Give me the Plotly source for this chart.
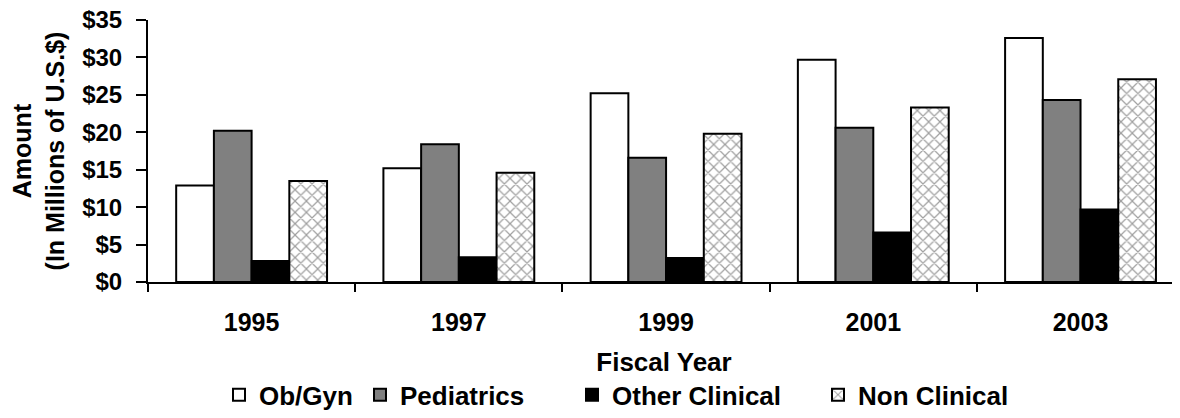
import plotly.graph_objects as go

years = ["1995", "1997", "1999", "2001", "2003"]
ob_gyn = [12.9, 15.2, 25.2, 29.7, 32.6]
pediatrics = [20.2, 18.4, 16.6, 20.6, 24.3]
other_clinical = [2.8, 3.3, 3.2, 6.6, 9.7]
non_clinical = [13.5, 14.6, 19.8, 23.3, 27.1]
y_ticks = [0, 5, 10, 15, 20, 25, 30, 35]
y_tick_labels = ["$" + str(v) for v in y_ticks]

FONT = "Arial, Liberation Sans, sans-serif"
line = dict(color="black", width=2)


def bold(size):
    return dict(family=FONT, size=size, color="black", weight="bold")


fig = go.Figure()
fig.add_bar(x=years, y=ob_gyn, name="Ob/Gyn", legendwidth=96,
            marker=dict(color="white", line=line))
fig.add_bar(x=years, y=pediatrics, name="Pediatrics", legendwidth=167,
            marker=dict(color="#808080", line=line))
fig.add_bar(x=years, y=other_clinical, name="Other Clinical", legendwidth=201,
            marker=dict(color="black", line=line))
fig.add_bar(x=years, y=non_clinical, name="Non Clinical", legendwidth=160,
            marker=dict(color="white", line=line,
                        pattern=dict(shape="x", fgcolor="#404040", bgcolor="white", size=8, solidity=0.28)))

# page body has an 8px margin; figure size/margins compensate for it
fig.update_layout(
    width=1172, height=410,
    margin=dict(l=140, r=0, t=12, b=136, autoexpand=False),
    paper_bgcolor="white", plot_bgcolor="white",
    barmode="group", bargap=0.272, bargroupgap=0,
    font=dict(family=FONT, size=25, color="black"),
    showlegend=True,
    legend=dict(orientation="h", x=0.0688, xanchor="left", y=-0.52, yanchor="bottom",
                font=bold(26), itemsizing="constant", traceorder="normal", itemwidth=30,
                tracegroupgap=0, borderwidth=0),
)
fig.update_xaxes(
    type="category", range=[-0.5, 4.48], showline=True, linecolor="black", linewidth=2,
    ticks="outside", tickson="boundaries", ticklen=8, tickwidth=2, tickcolor="black",
    tickfont=bold(25), ticklabelstandoff=17, ticklabeloverflow="allow",
    title=dict(text="Fiscal Year", font=bold(26), standoff=18),
    showgrid=False, zeroline=False, automargin=False,
)
fig.update_yaxes(
    range=[0, 35], tickvals=y_ticks, ticktext=y_tick_labels,
    showline=True, linecolor="black", linewidth=2,
    ticks="outside", ticklen=10, tickwidth=2, tickcolor="black",
    tickfont=bold(24), ticklabelstandoff=9, ticklabeloverflow="allow",
    title=dict(text="Amount<br>(In Millions of U.S.$)", font=bold(25), standoff=12),
    showgrid=False, zeroline=False, automargin=False,
)

fig.write_html("out.html")
